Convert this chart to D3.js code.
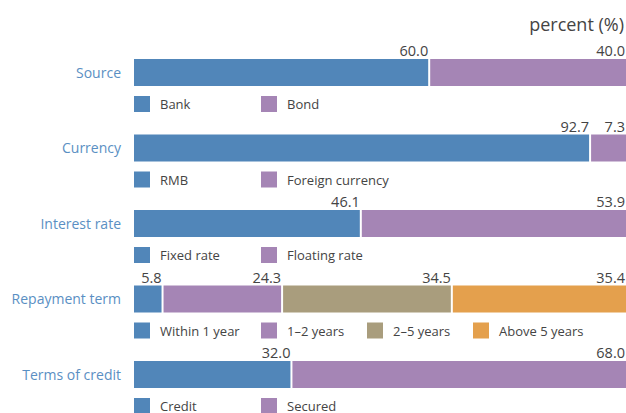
<!DOCTYPE html>
<html>
<head>
<meta charset="utf-8">
<script src="https://cdn.jsdelivr.net/npm/d3@7"></script>
<style>
  body { margin: 0; background: #fff; }
  svg text { font-family: "Open Sans", "Noto Sans", sans-serif; }
</style>
</head>
<body>
<div id="chart-area"></div>
<script>
// 1. Data
var categories = ["Source", "Currency", "Interest rate", "Repayment term", "Terms of credit"];
var seriesNames = [
    ["Bank", "Bond"],
    ["RMB", "Foreign currency"],
    ["Fixed rate", "Floating rate"],
    ["Within 1 year", "1\u20132 years", "2\u20135 years", "Above 5 years"],
    ["Credit", "Secured"]
];
var seriesValues = [
    [60.0, 40.0],
    [92.7, 7.3],
    [46.1, 53.9],
    [5.8, 24.3, 34.5, 35.4],
    [32.0, 68.0]
];
var colors = ["#5186b9", "#a585b5", "#a99d7d", "#e4a04d"];

// 2. Canvas
var svg_width = 626, svg_height = 413;
var svg = d3.select("#chart-area").append("svg")
    .attr("width", svg_width)
    .attr("height", svg_height);

// 3. Scales
var x_scaling = d3.scaleLinear().domain([0, 100]).range([134, 626]);
var y_scaling = d3.scaleBand()
    .domain(categories)
    .range([59, 59 + 75.5 * 5])
    .paddingInner(0);
var bar_h = 27;
var legend_x = [0, 127, 233, 339];

// unit label
svg.append("text")
    .attr("x", 624)
    .attr("y", 31)
    .attr("text-anchor", "end")
    .attr("font-size", "18px")
    .attr("fill", "#444")
    .text("percent (%)");

// 4. Rows
categories.forEach(function (cat, i) {
    var y0 = y_scaling(cat);
    var vals = seriesValues[i];
    var stack = [];
    var acc = 0;
    vals.forEach(function (v, j) {
        stack.push({ start: acc, end: acc + v, value: v, name: seriesNames[i][j], k: j });
        acc += v;
    });

    var row = svg.append("g").attr("class", "row");

    row.append("text")
        .attr("x", 121)
        .attr("y", y0 + bar_h / 2 + 5)
        .attr("text-anchor", "end")
        .attr("font-size", "14px")
        .attr("fill", "#5a8fc3")
        .text(cat);

    row.selectAll("rect.seg").data(stack).enter()
        .append("rect")
        .attr("class", "seg")
        .attr("x", function (d) { return x_scaling(d.start) + (d.k > 0 ? 1 : 0); })
        .attr("y", y0)
        .attr("width", function (d) {
            var w = x_scaling(d.end) - x_scaling(d.start);
            if (d.k > 0) w -= 1;
            if (d.k < stack.length - 1) w -= 1;
            return w;
        })
        .attr("height", bar_h)
        .attr("fill", function (d) { return colors[d.k]; });

    row.selectAll("text.val").data(stack).enter()
        .append("text")
        .attr("class", "val")
        .attr("x", function (d) { return x_scaling(d.end) - 1; })
        .attr("y", y0 - 3)
        .attr("text-anchor", "end")
        .attr("font-size", "14.5px")
        .attr("fill", "#444")
        .text(function (d) { return d.value.toFixed(1); });

    // legend
    var legend = row.selectAll("g.leg").data(stack).enter()
        .append("g")
        .attr("class", "leg")
        .attr("transform", function (d) { return "translate(" + (134 + legend_x[d.k]) + "," + (y0 + 37) + ")"; });
    legend.append("rect")
        .attr("width", 16)
        .attr("height", 16)
        .attr("fill", function (d) { return colors[d.k]; });
    legend.append("text")
        .attr("x", 26)
        .attr("y", 13)
        .attr("font-size", "13px")
        .attr("fill", "#444")
        .text(function (d) { return d.name; });
});
</script>
</body>
</html>
